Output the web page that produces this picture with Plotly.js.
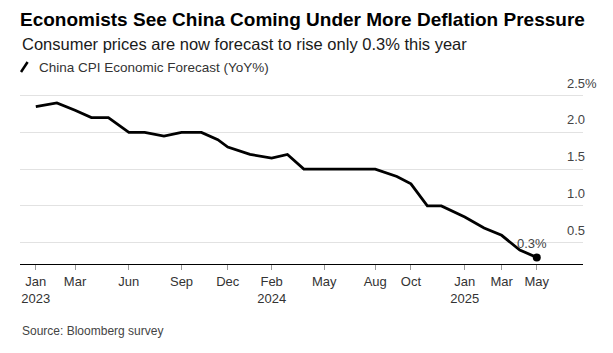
<!DOCTYPE html>
<html>
<head>
<meta charset="utf-8">
<script src="https://cdn.plot.ly/plotly-3.0.1.min.js"></script>
<style>
  html, body { margin: 0; padding: 0; background: #fff; }
  #chart { width: 613px; height: 353px; }
</style>
</head>
<body>
<div id="chart"></div>
<script>
// Survey dates (x) and median China CPI forecast, YoY %
const surveyDates = [
  '2023-01-10','2023-02-15','2023-03-18','2023-04-15','2023-05-14','2023-06-18',
  '2023-07-15','2023-08-17','2023-09-16','2023-10-20','2023-11-17','2023-12-04',
  '2024-01-11','2024-02-17','2024-03-15','2024-04-12','2024-05-17','2024-06-14',
  '2024-07-13','2024-08-12','2024-09-18','2024-10-12','2024-11-09','2024-12-03',
  '2025-01-12','2025-02-14','2025-03-16','2025-04-16','2025-05-15'
];
const cpiForecast = [
  2.35, 2.4, 2.3, 2.2, 2.2, 2.0,
  2.0, 1.95, 2.0, 2.0, 1.9, 1.8,
  1.7, 1.65, 1.7, 1.5, 1.5, 1.5,
  1.5, 1.5, 1.4, 1.3, 1.0, 1.0,
  0.85, 0.7, 0.6, 0.4, 0.3
];
const xTickDates = [
  '2023-01-10','2023-03-18','2023-06-18','2023-09-16','2023-12-04','2024-02-17',
  '2024-05-17','2024-08-12','2024-10-12','2025-01-12','2025-03-16','2025-05-15'
];
const xTickLabels = [
  'Jan<br>2023','Mar','Jun','Sep','Dec','Feb<br>2024',
  'May','Aug','Oct','Jan<br>2025','Mar','May'
];
const yTickValues = [0.5, 1.0, 1.5, 2.0, 2.5];
const yTickLabels = ['0.5', '1.0', '1.5', '2.0', '2.5%'];

const FONT = 'Liberation Sans, Arial, Helvetica, sans-serif';
const lastIdx = cpiForecast.length - 1;

const traces = [
  {
    x: surveyDates, y: cpiForecast, type: 'scatter', mode: 'lines',
    line: { color: '#000000', width: 2.8, shape: 'linear' },
    hoverinfo: 'skip', showlegend: false
  },
  {
    x: [surveyDates[lastIdx]], y: [cpiForecast[lastIdx]], type: 'scatter', mode: 'markers',
    marker: { color: '#000000', size: 8 },
    hoverinfo: 'skip', showlegend: false
  }
];

const annotations = yTickValues.map((v, i) => ({
  x: 0.968, xref: 'paper', xanchor: 'left',
  y: v, yref: 'y', yanchor: 'bottom', yshift: 3,
  text: yTickLabels[i], showarrow: false,
  font: { family: FONT, size: 13, color: '#444' }
}));

annotations.push({
  x: surveyDates[lastIdx], xref: 'x', y: cpiForecast[lastIdx], yref: 'y',
  xanchor: 'center', yanchor: 'middle', xshift: -5, yshift: 14,
  text: cpiForecast[lastIdx].toFixed(1) + '%', showarrow: false,
  font: { family: FONT, size: 13, color: '#444' }
});
annotations.push({
  x: 0, xref: 'paper', xanchor: 'left', y: 1.25, yref: 'paper', yanchor: 'middle',
  text: 'Consumer prices are now forecast to rise only 0.3% this year', showarrow: false,
  font: { family: FONT, size: 16.5, color: '#1a1a1a' }
});
annotations.push({
  x: 0.031, xref: 'paper', xanchor: 'left', y: 1.119, yref: 'paper', yanchor: 'middle',
  text: 'China CPI Economic Forecast (YoY%)', showarrow: false,
  font: { family: FONT, size: 13.5, color: '#333' }
});
annotations.push({
  x: 0, xref: 'paper', xanchor: 'left', y: -0.381, yref: 'paper', yanchor: 'middle',
  text: 'Source: Bloomberg survey', showarrow: false,
  font: { family: FONT, size: 12, color: '#444' }
});

const layout = {
  width: 613, height: 353,
  margin: { l: 20, r: 30, t: 88, b: 89, pad: 0 },
  paper_bgcolor: '#ffffff', plot_bgcolor: '#ffffff',
  font: { family: FONT, color: '#333' },
  title: {
    text: '<b>Economists See China Coming Under More Deflation Pressure</b>',
    x: 0, xref: 'paper', xanchor: 'left',
    y: 1 - 19 / 353, yref: 'container', yanchor: 'middle',
    font: { family: FONT, size: 19, color: '#000' }
  },
  xaxis: {
    type: 'date',
    range: ['2022-12-14', '2025-08-02'],
    tickmode: 'array', tickvals: xTickDates, ticktext: xTickLabels,
    ticks: 'outside', ticklen: 5, tickwidth: 1, tickcolor: '#999',
    showline: true, linecolor: '#000', linewidth: 1.3,
    showgrid: false, zeroline: false,
    tickfont: { family: FONT, size: 13, color: '#333' },
    fixedrange: true
  },
  yaxis: {
    range: [0.21, 2.603],
    tickmode: 'array', tickvals: yTickValues,
    showticklabels: false, ticks: '',
    showgrid: true, gridcolor: '#e2e2e2', gridwidth: 1,
    zeroline: false, showline: false, fixedrange: true
  },
  shapes: [
    {
      type: 'line', xref: 'paper', yref: 'paper',
      x0: 0.0018, y0: 1.091, x1: 0.0135, y1: 1.148,
      line: { color: '#000', width: 2.5 }
    }
  ],
  annotations: annotations,
  showlegend: false
};

Plotly.newPlot('chart', traces, layout, { displayModeBar: false, staticPlot: true });
</script>
</body>
</html>
